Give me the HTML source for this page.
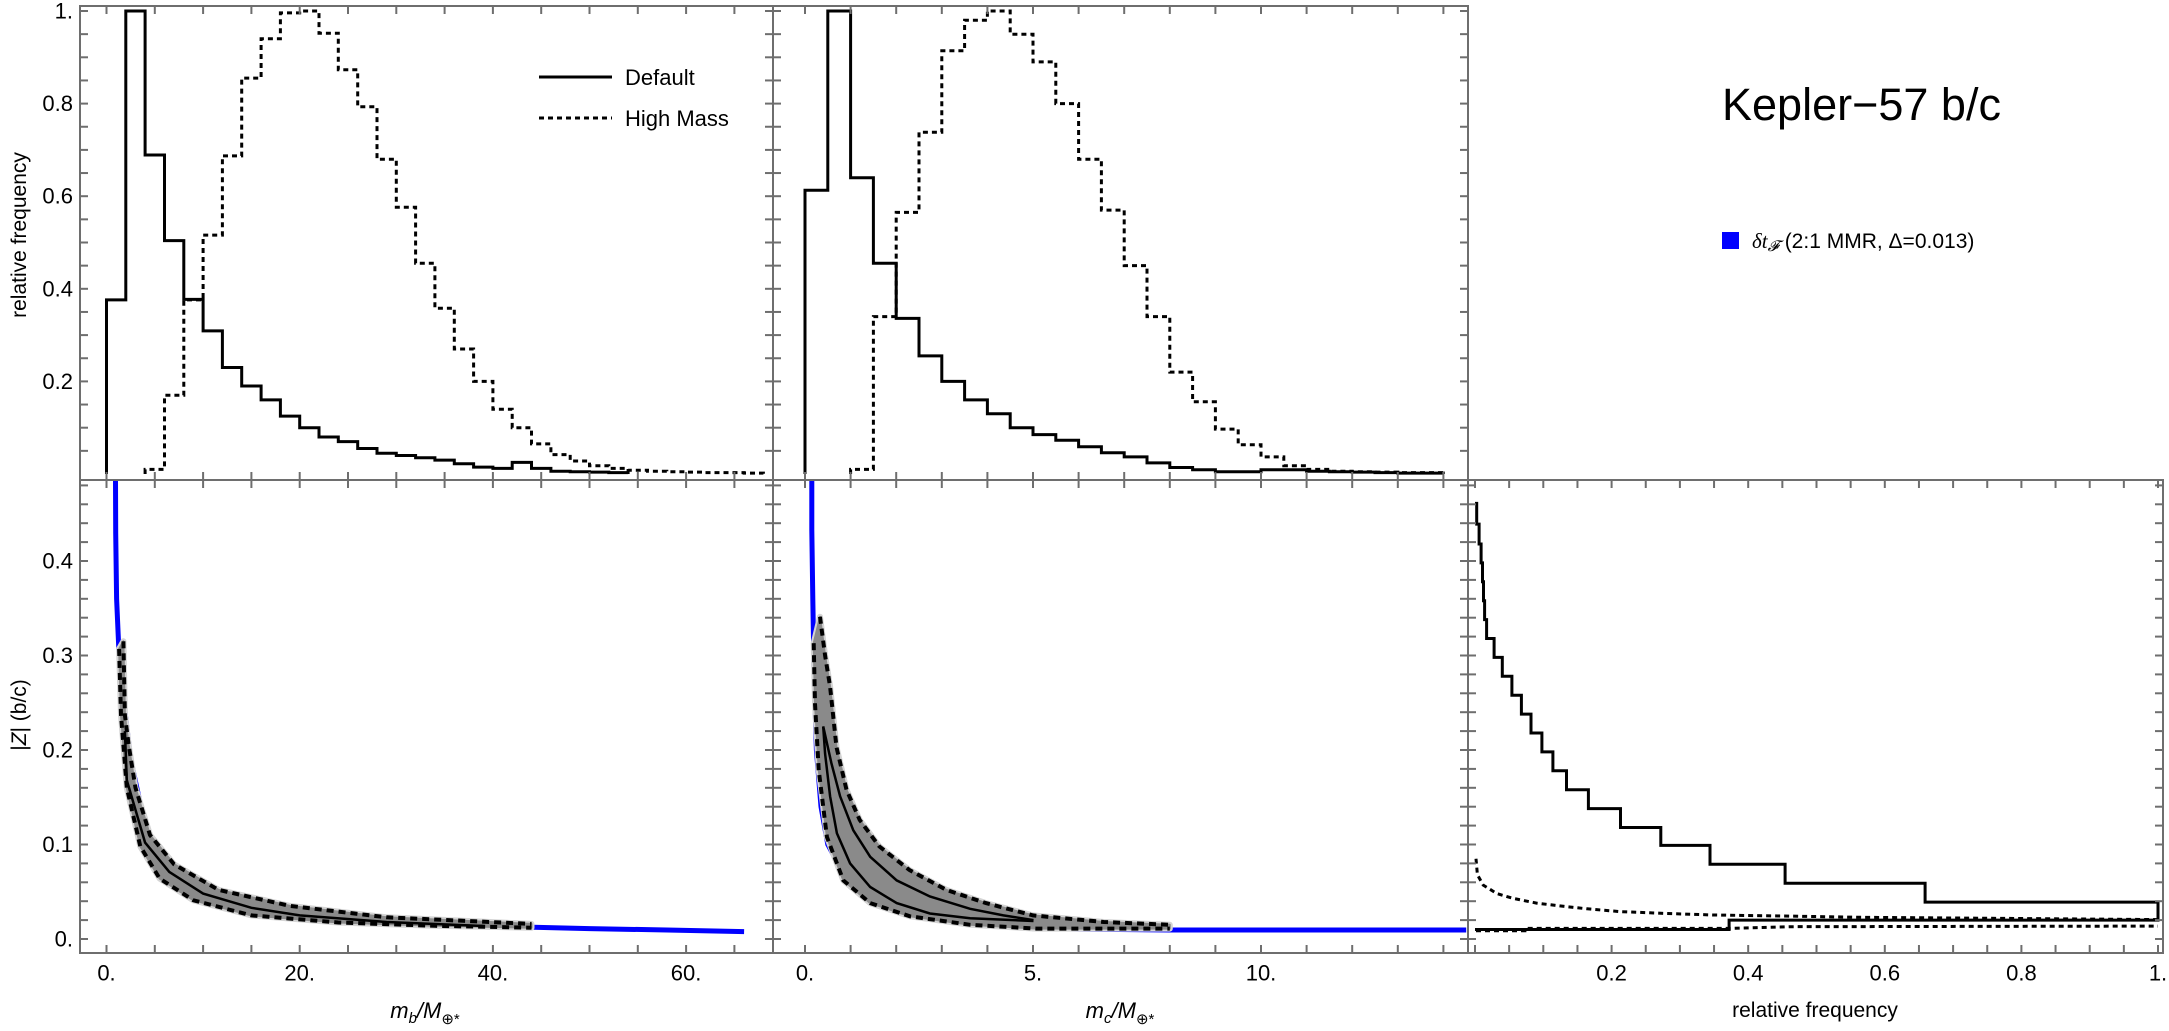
<!DOCTYPE html>
<html><head><meta charset="utf-8">
<style>
html,body{margin:0;padding:0;background:#fff;}
svg{display:block;font-family:"Liberation Sans",Arial,sans-serif;}
</style></head>
<body>
<svg id="fig" xmlns="http://www.w3.org/2000/svg" width="2169" height="1031" viewBox="0 0 2169 1031">
<rect x="0" y="0" width="2169" height="1031" fill="#fff"/>
<defs>
<clipPath id="cTL"><rect x="80" y="6" width="693" height="474"/></clipPath>
<clipPath id="cTM"><rect x="773" y="6" width="695" height="474"/></clipPath>
<clipPath id="cBL"><rect x="80" y="480" width="693" height="473"/></clipPath>
<clipPath id="cBM"><rect x="773" y="480" width="695" height="473"/></clipPath>
<clipPath id="cBR"><rect x="1468" y="480" width="695" height="473"/></clipPath>
</defs>
<g id="layer"></g>
<text x="1722" y="120" font-size="45" fill="#000">Kepler−57 b/c</text>
<rect x="1722" y="232" width="17" height="17" fill="#0000ff"/>
<text x="1752" y="248" font-size="21" fill="#000"><tspan font-style="italic" font-family="Liberation Serif, serif">δt</tspan><tspan font-style="italic" font-family="Liberation Serif, serif" font-size="15" dy="3">𝓕</tspan><tspan dy="-3" dx="6">(2:1 MMR, Δ=0.013)</tspan></text>
<g>
<line x1="539" y1="77" x2="612" y2="77" stroke="#000" stroke-width="3"/>
<text x="625" y="85" font-size="22">Default</text>
<line x1="539" y1="118" x2="612" y2="118" stroke="#000" stroke-width="3" stroke-dasharray="5 4"/>
<text x="625" y="126" font-size="22">High Mass</text>
</g>
<text transform="translate(26,235) rotate(-90)" text-anchor="middle" font-size="21">relative frequency</text>
<text transform="translate(26,715) rotate(-90)" text-anchor="middle" font-size="21">|<tspan font-style="italic">Z</tspan>| (b/c)</text>
<text x="425" y="1018" text-anchor="middle" font-size="22"><tspan font-style="italic">m</tspan><tspan font-style="italic" font-size="15" dy="5">b</tspan><tspan font-style="italic" dy="-5">/M</tspan><tspan font-size="15" dy="6">⊕*</tspan></text>
<text x="1120" y="1018" text-anchor="middle" font-size="22"><tspan font-style="italic">m</tspan><tspan font-style="italic" font-size="15" dy="5">c</tspan><tspan font-style="italic" dy="-5">/M</tspan><tspan font-size="15" dy="6">⊕*</tspan></text>
<text x="1815" y="1017" text-anchor="middle" font-size="21">relative frequency</text>
</svg>
<script>
// ---- data ----
const tlDefaultStart = 0, tlBinW = 2;
const tlDefault = [0.376,1.0,0.689,0.504,0.377,0.309,0.23,0.19,0.16,0.125,0.10,0.08,0.07,0.055,0.045,0.04,0.035,0.03,0.022,0.015,0.012,0.025,0.012,0.006,0.005,0.004,0.003];
const tlHighStart = 4;
const tlHigh = [0.01,0.17,0.376,0.516,0.687,0.855,0.94,0.996,1.0,0.952,0.873,0.793,0.68,0.576,0.455,0.358,0.27,0.20,0.14,0.10,0.065,0.042,0.028,0.018,0.012,0.008,0.006,0.005,0.004,0.003,0.003,0.002];
const tmDefaultStart = 0, tmBinW = 0.5;
const tmDefault = [0.613,1.0,0.64,0.455,0.336,0.255,0.20,0.16,0.13,0.10,0.085,0.073,0.059,0.046,0.037,0.024,0.014,0.009,0.005,0.005,0.009,0.009,0.006,0.005,0.004,0.003,0.002,0.002];
const tmHighStart = 1.0;
const tmHigh = [0.01,0.34,0.565,0.738,0.914,0.98,1.0,0.95,0.89,0.80,0.68,0.57,0.45,0.34,0.22,0.156,0.097,0.063,0.037,0.018,0.01,0.006,0.005,0.004,0.003,0.003];
const brEdges = [0.461,0.439,0.418,0.398,0.378,0.358,0.338,0.318,0.298,0.278,0.258,0.238,0.218,0.198,0.178,0.158,0.138,0.118,0.099,0.079,0.059,0.039,0.020,0.010];
const brDefault = [0.0025,0.006,0.009,0.011,0.0125,0.014,0.017,0.028,0.04,0.054,0.068,0.082,0.098,0.114,0.134,0.166,0.213,0.272,0.344,0.454,0.659,1.0,0.372];
const brHighF = [0.0015,0.0035,0.012,0.032,0.056,0.090,0.124,0.164,0.212,0.281,0.349,0.451,0.564,0.739,1.0];
const brHighZ = [0.085,0.068,0.057,0.048,0.043,0.038,0.035,0.032,0.029,0.027,0.0254,0.0243,0.023,0.022,0.0205];
const brLowF = [0.0015,0.073,0.073,0.372,0.461,1.0];
const brLowZ = [0.0088,0.0088,0.0112,0.0112,0.013,0.0137];
const blUpperM = [1.75,1.9,2.3,3.0,4.5,7.0,11.6,19,29,44];
const blUpperZ = [0.315,0.237,0.205,0.160,0.110,0.079,0.052,0.035,0.023,0.016];
const blLowerM = [1.3,1.5,2.1,3.5,5.5,9,15,24,34,44];
const blLowerZ = [0.307,0.237,0.16,0.098,0.064,0.041,0.025,0.0175,0.014,0.012];
const blMidM = [1.9,2.1,4.0,6.5,10,15,20,29,39];
const blMidZ = [0.22,0.168,0.102,0.071,0.048,0.033,0.025,0.018,0.0138];
const blBlueM = [0.93,0.95,1.05,1.3,1.8,2.5,4,6,10,15,20,30,40,50,58,66];
const blBlueZ = [0.486,0.43,0.36,0.30,0.25,0.19,0.12,0.082,0.05,0.034,0.026,0.018,0.0135,0.011,0.0095,0.0078];
const bmUpperM = [0.33,0.44,0.55,0.69,0.91,1.2,1.63,2.29,3.1,3.97,5.0,6.55,8.0];
const bmUpperZ = [0.341,0.30,0.267,0.203,0.158,0.126,0.098,0.073,0.052,0.038,0.025,0.018,0.015];
const bmLowerM = [0.19,0.22,0.30,0.48,0.84,1.43,2.3,3.62,5.07,8.0];
const bmLowerZ = [0.313,0.249,0.179,0.108,0.062,0.038,0.024,0.015,0.011,0.011];
const bmSolidUpM = [0.40,0.58,0.77,1.06,1.43,2.01,2.74,3.62,4.35,5.01];
const bmSolidUpZ = [0.225,0.186,0.151,0.115,0.087,0.062,0.045,0.032,0.025,0.020];
const bmSolidLoM = [0.40,0.44,0.55,0.70,0.99,1.43,2.01,2.74,3.62,5.01];
const bmSolidLoZ = [0.225,0.196,0.151,0.112,0.080,0.055,0.038,0.027,0.022,0.019];
const bmBlueM = [0.15,0.15,0.17,0.2,0.25,0.35,0.5,1,2,5,8,11,14.5];
const bmBlueZ = [0.486,0.433,0.36,0.28,0.2,0.14,0.1,0.055,0.03,0.011,0.0095,0.0095,0.0095];
const topYTicks = [0.2,0.4,0.6,0.8,1.0];
const topYLabels = ["0.2","0.4","0.6","0.8","1."];
const botYTicks = [0,0.1,0.2,0.3,0.4];
const botYLabels = ["0.","0.1","0.2","0.3","0.4"];
const leftXTicks = [0,20,40,60];
const leftXLabels = ["0.","20.","40.","60."];
const midXTicks = [0,5,10];
const midXLabels = ["0.","5.","10."];
const rightXTicks = [0.2,0.4,0.6,0.8,1.0];
const rightXLabels = ["0.2","0.4","0.6","0.8","1."];

const xL = m => 106.5 + 9.66*m;
const xM = m => 805 + 45.6*m;
const xR = f => 1475 + 683*f;
const yT = v => 474 - 463*v;
const yB = z => 939 - 945*z;

const NS = "http://www.w3.org/2000/svg";
const layer = document.getElementById('layer');
function mk(tag, attrs, parent){
  const e = document.createElementNS(NS, tag);
  for (const k in attrs) e.setAttribute(k, attrs[k]);
  (parent||layer).appendChild(e);
  return e;
}
function grp(clip){ return mk('g', clip?{'clip-path':'url(#'+clip+')'}:{}); }
function histPath(xs, start, bw, vals){
  let d = 'M'+xs(start).toFixed(1)+','+yT(0).toFixed(1);
  vals.forEach((v,i)=>{ d += ' V'+yT(v).toFixed(1)+' H'+xs(start+(i+1)*bw).toFixed(1); });
  d += ' V'+yT(0).toFixed(1);
  return d;
}
function poly(xs, ys, X, Y){ return X.map((x,i)=>xs(x).toFixed(1)+','+ys(Y[i]).toFixed(1)).join(' '); }

const gTL = grp('cTL');
let p = mk('path',{d:histPath(xL,tlHighStart,tlBinW,tlHigh),fill:'none',stroke:'#000','stroke-width':3,'stroke-dasharray':'5 4'},gTL);


p = mk('path',{d:histPath(xL,tlDefaultStart,tlBinW,tlDefault),fill:'none',stroke:'#000','stroke-width':3},gTL);



const gTM = grp('cTM');
p = mk('path',{d:histPath(xM,tmHighStart,tmBinW,tmHigh),fill:'none',stroke:'#000','stroke-width':3,'stroke-dasharray':'5 4'},gTM);


p = mk('path',{d:histPath(xM,tmDefaultStart,tmBinW,tmDefault),fill:'none',stroke:'#000','stroke-width':3},gTM);



function scatterPanel(clip, xs, uM,uZ,lM,lZ, blueM,blueZ, solids, nm){
  const g = grp(clip);
  let b = mk('polyline',{points:poly(xs,yB,blueM,blueZ),fill:'none',stroke:'#0000ff','stroke-width':5,'stroke-linejoin':'round'},g);
  
  
  const pts = poly(xs,yB,uM,uZ)+' '+poly(xs,yB,lM.slice().reverse(),lZ.slice().reverse());
  let halo = mk('polygon',{points:pts,fill:'#d4d4d4',stroke:'#d4d4d4','stroke-width':6,'stroke-linejoin':'round'},g);
  
  
  let band = mk('polygon',{points:pts,fill:'#8a8a8a',stroke:'#8a8a8a','stroke-width':2,'stroke-linejoin':'round'},g);
  
  
  let du = mk('polyline',{points:poly(xs,yB,uM,uZ),fill:'none',stroke:'#000','stroke-width':4,'stroke-dasharray':'7 5'},g);
  
  
  let dl = mk('polyline',{points:poly(xs,yB,lM,lZ),fill:'none',stroke:'#000','stroke-width':4,'stroke-dasharray':'7 5'},g);
  
  
  solids.forEach(s=>{
    let sl = mk('polyline',{points:poly(xs,yB,s[0],s[1]),fill:'none',stroke:'#000','stroke-width':2.5},g);
    
    
  });
}
scatterPanel('cBL', xL, blUpperM,blUpperZ,blLowerM,blLowerZ, blBlueM,blBlueZ, [[blMidM,blMidZ]], 'mb');
scatterPanel('cBM', xM, bmUpperM,bmUpperZ,bmLowerM,bmLowerZ, bmBlueM,bmBlueZ, [[bmSolidUpM,bmSolidUpZ],[bmSolidLoM,bmSolidLoZ]], 'mc');

const gBR = grp('cBR');
let dR = 'M'+xR(0).toFixed(1)+','+yB(brEdges[0]).toFixed(1);
brDefault.forEach((f,i)=>{ dR += ' H'+xR(f).toFixed(1)+' V'+yB(brEdges[i+1]).toFixed(1); });
dR += ' H'+xR(0).toFixed(1);
p = mk('polyline',{points:poly(xR,yB,brHighF,brHighZ),fill:'none',stroke:'#000','stroke-width':3,'stroke-dasharray':'5 4'},gBR);


p = mk('polyline',{points:poly(xR,yB,brLowF,brLowZ),fill:'none',stroke:'#000','stroke-width':3,'stroke-dasharray':'5 4'},gBR);


p = mk('path',{d:dR,fill:'none',stroke:'#000','stroke-width':3},gBR);



const FC = '#6e6e6e';
function frame(x0,y0,x1,y1,nm){
  const r = mk('rect',{x:x0,y:y0,width:x1-x0,height:y1-y0,fill:'none',stroke:FC,'stroke-width':2});
  
  
}
function tick(x1,y1,x2,y2){ mk('line',{x1:x1,y1:y1,x2:x2,y2:y2,stroke:FC,'stroke-width':2}); }
function xTicks(xs, from, to, step, y0, y1){
  for(let v=from; v<=to+1e-9; v+=step){ const x=xs(v); tick(x,y0,x,y0+8); tick(x,y1,x,y1-8); }
}
function yTicks(ys, from, to, step, x0, x1){
  for(let v=from; v<=to+1e-9; v+=step){ const y=ys(v); tick(x0,y,x0+8,y); tick(x1,y,x1-8,y); }
}
frame(80,6,773,480,'panel-top-left');
frame(773,6,1468,480,'panel-top-middle');
frame(80,480,773,953,'panel-bottom-left');
frame(773,480,1468,953,'panel-bottom-middle');
frame(1468,480,2163,953,'panel-bottom-right');
xTicks(xL,0,65,5,6,480); yTicks(yT,0.05,1.0,0.05,80,773);
xTicks(xM,0,14,1,6,480); yTicks(yT,0.05,1.0,0.05,773,1468);
xTicks(xL,0,65,5,480,953); yTicks(yB,0,0.48,0.02,80,773);
xTicks(xM,0,14,1,480,953); yTicks(yB,0,0.48,0.02,773,1468);
xTicks(xR,0,1,0.05,480,953); yTicks(yB,0,0.48,0.02,1468,2163);

function label(x,y,txt,anchor,nm){
  const t = mk('text',{x:x,y:y,'text-anchor':anchor,'font-size':22,'dominant-baseline':'central',fill:'#000'});
  t.textContent = txt;
  
  
}
topYTicks.forEach((v,i)=>label(73,yT(v),topYLabels[i],'end','y-tick-label-top'));
botYTicks.forEach((v,i)=>label(73,yB(v),botYLabels[i],'end','y-tick-label-bottom'));
leftXTicks.forEach((v,i)=>label(xL(v),973,leftXLabels[i],'middle','x-tick-label-mb'));
midXTicks.forEach((v,i)=>label(xM(v),973,midXLabels[i],'middle','x-tick-label-mc'));
rightXTicks.forEach((v,i)=>label(xR(v),973,rightXLabels[i],'middle','x-tick-label-freq'));
</script>
</body></html>
